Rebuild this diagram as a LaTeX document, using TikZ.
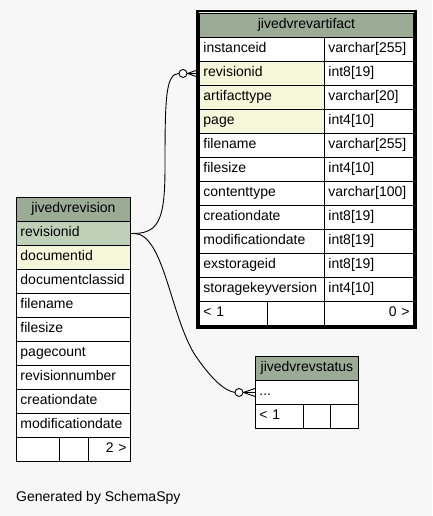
\documentclass[tikz,border=0pt]{standalone}
\usepackage{fontspec}
\setmainfont{Liberation Sans}
\definecolor{headcol}{HTML}{9BAB96}
\definecolor{pkcol}{HTML}{BED1B8}
\definecolor{idxcol}{HTML}{F4F7DA}
\definecolor{pagecol}{HTML}{F7F7F7}
\begin{document}
\begin{tikzpicture}[x=1pt,y=-1pt,
  cell/.style={draw,fill=white,anchor=north west,line width=.9pt,minimum height=24pt,
    inner xsep=4pt,inner ysep=0pt,text height=10pt,text depth=3pt,align=left,
    font=\fontsize{14}{16}\selectfont},
  hdr/.style={cell,fill=headcol,align=center},
  conn/.style={line width=.9pt},
  endring/.style={draw,fill=white,line width=.9pt}]

%Background and page size
\fill[pagecol] (0,0) rectangle (432,516);
\useasboundingbox (0,0) rectangle (432,516);

%%%Table jivedvrevision
\begin{scope}[shift={(16,197)}]
%Header and columns
\node[hdr,text width=106pt] (rev) at (0,0) {jivedvrevision};
\foreach \t/\c [count=\i] in {revisionid/pkcol,documentid/idxcol,documentclassid/white,filename/white,filesize/white,pagecount/white,revisionnumber/white,creationdate/white,modificationdate/white}
  \node[cell,fill=\c,text width=106pt] (rev-\i) at (0,24*\i) {\t};
%Footer
\node[cell,text width=35pt] (rev-f1) at (0,240) {};
\node[cell,text width=21pt] (rev-f2) at (43,240) {};
\node[cell,text width=34pt,align=right] (rev-f3) at (72,240) {2 >};
\end{scope}

%%%Table jivedvrevartifact
\begin{scope}[shift={(199,13)}]
%Header and columns
\node[hdr,text width=206pt] (art) at (0,0) {jivedvrevartifact};
\foreach \t/\d/\c [count=\i] in {instanceid/varchar[255]/white,revisionid/int8[19]/idxcol,artifacttype/varchar[20]/idxcol,page/int4[10]/idxcol,filename/varchar[255]/white,filesize/int4[10]/white,contenttype/varchar[100]/white,creationdate/int8[19]/white,modificationdate/int8[19]/white,exstorageid/int8[19]/white,storagekeyversion/int4[10]/white}
{
  \node[cell,fill=\c,text width=117pt] (art-\i) at (0,24*\i) {\t};
  \node[cell,text width=81pt] (art-t\i) at (125,24*\i) {\d};
}
%Footer
\node[cell,text width=60pt] (art-f1) at (0,288) {< 1};
\node[cell,text width=49pt] (art-f2) at (68,288) {};
\node[cell,text width=81pt,align=right] (art-f3) at (125,288) {0 >};
\end{scope}
%Thick frame of the selected table
\draw[line width=2.6pt] ([shift={(-1.8,-1.8)}]art.north west) rectangle ([shift={(1.8,1.8)}]art-f3.south east);

%%%Table jivedvrevstatus
\begin{scope}[shift={(255,356)}]
\node[hdr,text width=95pt] (stat) at (0,0) {jivedvrevstatus};
\node[cell,text width=95pt] (stat-1) at (0,24) {...};
%Footer
\node[cell,text width=40pt] (stat-f1) at (0,48) {< 1};
\node[cell,text width=19pt] (stat-f2) at (48,48) {};
\node[cell,text width=20pt] (stat-f3) at (75,48) {};
\end{scope}

%%%Connectors
%revisionid to jivedvrevartifact
\draw[conn] (rev-1.east) -- ++(3,0) .. controls +(27,0) and (165,215) .. (165,165)
  .. controls (165,95) and (166,74) .. ([xshift=-20pt]art-2.west);
\node[endring,circle,minimum size=8pt,inner sep=0pt] (ring1) at ([xshift=-16pt]art-2.west) {};
\foreach \s in {-4,0,4} \draw[conn] (ring1.east) -- ([yshift=\s pt]art-2.west);
%revisionid to jivedvrevstatus
\draw[conn] (rev-1.east) -- ++(3,0) .. controls +(30,0) and (170,315) .. (195,355)
  .. controls (212,380) and (225,391) .. ([xshift=-20pt]stat-1.west);
\node[endring,circle,minimum size=8pt,inner sep=0pt] (ring2) at ([xshift=-16pt]stat-1.west) {};
\foreach \s in {-4,0,4} \draw[conn] (ring2.east) -- ([yshift=\s pt]stat-1.west);

%Caption
\node[anchor=base west,inner sep=0pt,font=\fontsize{14}{16}\selectfont] (gen) at (16,501) {Generated by SchemaSpy};

\end{tikzpicture}
\end{document}
